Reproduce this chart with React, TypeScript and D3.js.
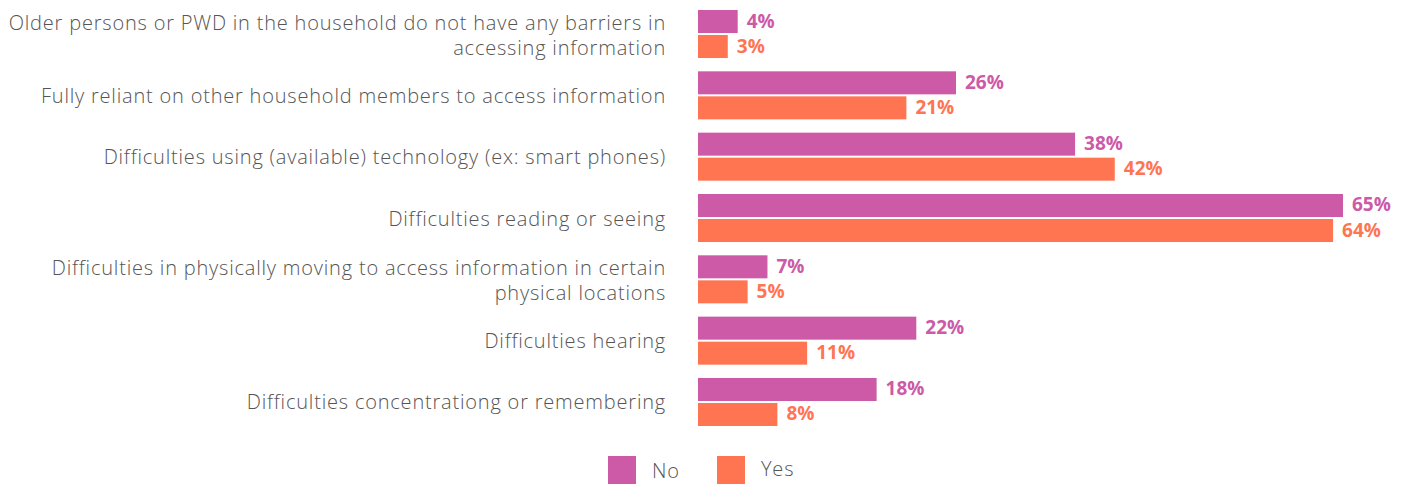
import React from 'react';
import * as d3 from 'd3';

const W = 1407;
const H = 484;

const categories = [
  'Older persons or PWD in the household do not have any barriers in|accessing information',
  'Fully reliant on other household members to access information',
  'Difficulties using (available) technology (ex: smart phones)',
  'Difficulties reading or seeing',
  'Difficulties in physically moving to access information in certain|physical locations',
  'Difficulties hearing',
  'Difficulties concentrationg or remembering',
];
const series = ['No', 'Yes'];
const noValues = [4, 26, 38, 65, 7, 22, 18];
const yesValues = [3, 21, 42, 64, 5, 11, 8];

const COLORS: Record<string, string> = { No: '#cc5aa7', Yes: '#ff7552' };
const FONT = '"Open Sans", Lato, sans-serif';

export default function App() {
  const x = d3.scaleLinear().domain([0, 65]).range([698, 1343]);
  const y = d3.scaleBand<string>().domain(categories).range([10, 426]).paddingInner(0.217).paddingOuter(0);
  const sub = d3.scaleBand<string>().domain(series).range([0, y.bandwidth()]).paddingInner(0.08);
  const valuesFor = (s: string) => (s === 'No' ? noValues : yesValues);

  return (
    <svg width={W} height={H} style={{ position: 'fixed', left: 0, top: 0, background: '#fff' }} fontFamily={FONT}>
      {categories.map((c, i) => {
        const lines = c.split('|');
        const cy = (y(c) ?? 0) + y.bandwidth() / 2;
        // single-line labels sit a bit higher than the two-line ones
        const base = lines.length > 1 ? cy + 8.5 : cy + 7.5;
        return (
          <g key={c}>
            {lines.map((ln, j) => (
              <text
                key={j}
                x={666}
                y={base + (j - (lines.length - 1) / 2) * 25}
                textAnchor="end"
                fontSize={20}
                fontWeight={300}
                letterSpacing={0.8}
                fill="#555"
              >
                {ln}
              </text>
            ))}
            {series.map((s) => {
              const v = valuesFor(s)[i];
              const by = (y(c) ?? 0) + (sub(s) ?? 0);
              return (
                <g key={s}>
                  <rect x={x(0)} y={by} width={x(v) - x(0)} height={sub.bandwidth()} fill={COLORS[s]} />
                  <text
                    x={x(v) + 9}
                    y={by + sub.bandwidth() / 2 + 6}
                    fontSize={19}
                    fontWeight={700}
                    fill={COLORS[s]}
                  >
                    {v}%
                  </text>
                </g>
              );
            })}
          </g>
        );
      })}
      {series.map((s, k) => {
        const lx = [608, 717][k];
        return (
          <g key={s}>
            <rect x={lx} y={456} width={28} height={28} fill={COLORS[s]} />
            <text x={lx + 44} y={k === 0 ? 478 : 476} fontSize={20} fontWeight={300} letterSpacing={0.8} fill="#555">
              {s}
            </text>
          </g>
        );
      })}
    </svg>
  );
}
